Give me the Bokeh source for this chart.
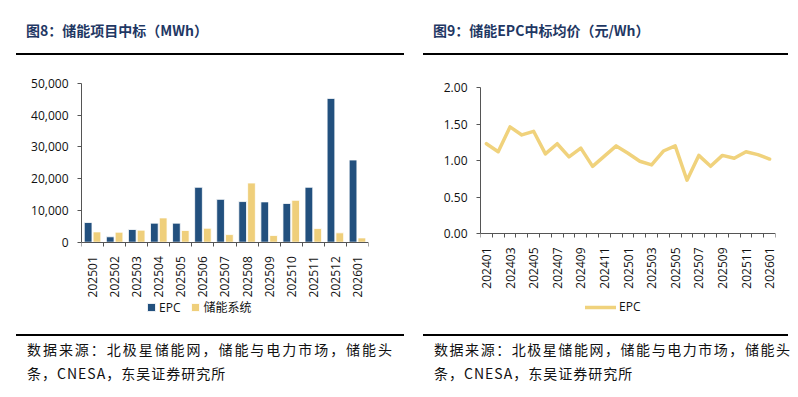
import math
from bokeh.plotting import figure
from bokeh.models import (ColumnDataSource, Legend, LegendItem, FixedTicker, Div, Spacer,
                          NumeralTickFormatter, Range1d)
from bokeh.layouts import row, column
from bokeh.transform import dodge
from bokeh.embed import file_html
from bokeh.resources import INLINE

# ---------------- data ----------------
bar_months = ["202501", "202502", "202503", "202504", "202505", "202506", "202507",
              "202508", "202509", "202510", "202511", "202512", "202601"]
epc_mwh = [6200, 1700, 4000, 6000, 6000, 17300, 13500, 12800, 12700, 12200, 17300, 45300, 25900]
system_mwh = [3250, 3150, 3800, 7650, 3700, 4400, 2400, 18650, 2100, 13200, 4300, 2950, 1350]
bar_series = ["EPC", "储能系统"]
bar_yticks = [0, 10000, 20000, 30000, 40000, 50000]

price_months = ["202401", "202402", "202403", "202404", "202405", "202406", "202407", "202408",
                "202409", "202410", "202411", "202412", "202501", "202502", "202503", "202504",
                "202505", "202506", "202507", "202508", "202509", "202510", "202511", "202512",
                "202601"]
epc_price = [1.23, 1.12, 1.46, 1.35, 1.40, 1.09, 1.23, 1.05, 1.17, 0.92, 1.06, 1.20, 1.10,
             0.99, 0.94, 1.13, 1.20, 0.73, 1.07, 0.92, 1.07, 1.03, 1.12, 1.08, 1.02]
price_yticks = [0.0, 0.5, 1.0, 1.5, 2.0]

title_left = "图8：储能项目中标（MWh）"
title_right = "图9：储能EPC中标均价（元/Wh）"
source_line1 = "数据来源：北极星储能网，储能与电力市场，储能头"
source_line2 = "条，CNESA，东吴证券研究所"

BLUE = "#22507E"
YELLOW = "#EFCF7B"
LINE_Y = "#F0D27C"
AXIS = "#555555"
FONT = "Open Sans, Noto Sans CJK SC"
CJK = "'Noto Sans CJK SC'"

FIG_H = 279


def style_axes(p):
    p.outline_line_color = None
    p.xgrid.grid_line_color = None
    p.ygrid.grid_line_color = None
    p.background_fill_color = "white"
    p.border_fill_color = "white"
    for ax in (p.xaxis[0], p.yaxis[0]):
        ax.axis_line_color = AXIS
        ax.major_tick_line_color = AXIS
        ax.minor_tick_line_color = AXIS
        ax.major_label_text_font = FONT
        ax.major_label_text_font_size = "12px"
        ax.major_label_text_color = "#111111"
        ax.major_tick_in = 0
        ax.minor_tick_in = 0


def low_extent(top_val, top_px, zero_px, bottom_px):
    # value at the lower frame edge, so that the axis (at 0) sits at zero_px
    return -top_val * (bottom_px - zero_px) / (zero_px - top_px)


# ---------------- left chart ----------------
n1 = len(bar_months)
src1 = ColumnDataSource(dict(x=list(range(n1)), epc=epc_mwh, sys=system_mwh))
ymax1 = bar_yticks[-1]
p1 = figure(width=388, height=FIG_H, output_backend="svg", toolbar_location=None,
            x_range=Range1d(-0.5, n1 - 0.5),
            y_range=Range1d(low_extent(ymax1, 28, 186.7, 269), ymax1),
            min_border_left=65, min_border_right=36, min_border_top=28,
            min_border_bottom=FIG_H - 269, margin=0)
r_epc = p1.vbar(x=dodge("x", -0.2), top="epc", width=0.35, source=src1,
                fill_color=BLUE, line_color="white", line_width=0.8)
r_sys = p1.vbar(x=dodge("x", 0.2), top="sys", width=0.35, source=src1,
                fill_color=YELLOW, line_color="white", line_width=0.8)
style_axes(p1)
p1.xaxis.fixed_location = 0
p1.xaxis.ticker = FixedTicker(ticks=list(range(n1)),
                              minor_ticks=[i - 0.5 for i in range(n1 + 1)])
p1.xaxis.major_label_overrides = {i: m for i, m in enumerate(bar_months)}
p1.xaxis.major_label_orientation = math.pi / 2
p1.xaxis.major_tick_out = 0
p1.xaxis.minor_tick_out = 4
p1.xaxis.major_label_standoff = 10
p1.yaxis.ticker = FixedTicker(ticks=bar_yticks, minor_ticks=[])
p1.yaxis.bounds = (0, ymax1)
p1.yaxis.formatter = NumeralTickFormatter(format="0,0")
p1.yaxis.major_tick_out = 4
p1.yaxis.minor_tick_out = 0
p1.yaxis.major_label_standoff = 9

leg1 = Legend(items=[LegendItem(label=bar_series[0], renderers=[r_epc]),
                     LegendItem(label=bar_series[1], renderers=[r_sys])],
              orientation="horizontal", location=(65, 8), border_line_color=None,
              background_fill_alpha=0, glyph_width=10, glyph_height=10, label_standoff=3,
              spacing=10, padding=0, margin=0, label_height=12,
              label_text_font=FONT, label_text_font_size="12px", label_text_color="#111111")
p1.add_layout(leg1, "center")

# ---------------- right chart ----------------
n2 = len(price_months)
src2 = ColumnDataSource(dict(x=list(range(n2)), price=epc_price))
ymax2 = price_yticks[-1]
p2 = figure(width=365, height=FIG_H, output_backend="svg", toolbar_location=None,
            x_range=Range1d(-0.5, n2 - 0.5),
            y_range=Range1d(low_extent(ymax2, 32, 178, 269), ymax2),
            min_border_left=57, min_border_right=13, min_border_top=32,
            min_border_bottom=FIG_H - 269, margin=0)
r_line = p2.line(x="x", y="price", source=src2, line_color=LINE_Y, line_width=3.5,
                 line_join="round", line_cap="round")
style_axes(p2)
p2.xaxis.fixed_location = 0
p2.xaxis.ticker = FixedTicker(ticks=list(range(0, n2, 2)),
                              minor_ticks=[i - 0.5 for i in range(n2 + 1)])
p2.xaxis.major_label_overrides = {i: price_months[i] for i in range(0, n2, 2)}
p2.xaxis.major_label_orientation = math.pi / 2
p2.xaxis.major_tick_out = 0
p2.xaxis.minor_tick_out = 4
p2.xaxis.major_label_standoff = 10
p2.yaxis.ticker = FixedTicker(ticks=price_yticks, minor_ticks=[])
p2.yaxis.bounds = (0, ymax2)
p2.yaxis.formatter = NumeralTickFormatter(format="0.00")
p2.yaxis.major_tick_out = 4
p2.yaxis.minor_tick_out = 0
p2.yaxis.major_label_standoff = 9

leg2 = Legend(items=[LegendItem(label="EPC", renderers=[r_line])],
              orientation="horizontal", location=(105, 9), border_line_color=None,
              background_fill_alpha=0, glyph_width=31, glyph_height=8, label_standoff=3,
              padding=0, margin=0, label_height=12,
              label_text_font=FONT, label_text_font_size="12px", label_text_color="#111111")
p2.add_layout(leg2, "center")


# ---------------- texts / rules ----------------
def title_div(text, w):
    return Div(text=f'<div style="font-family:{CJK};font-weight:bold;font-size:14px;'
                    f'line-height:20px;color:#1F3864;padding:20px 0 0 10px;white-space:nowrap;">'
                    f'{text}</div>', width=w, height=53, margin=0)


def rule(w):
    return Div(text="", width=w, height=2, margin=0, styles={"background-color": "black"})


def footer_div(w, tw):
    html = (f'<div style="font-family:{CJK};font-size:14px;line-height:24px;color:#111;'
            f'padding:1px 0 0 11px;">'
            f'<div style="width:{tw}px;text-align:justify;text-align-last:justify;white-space:nowrap;">{source_line1}</div>'
            f'<div style="letter-spacing:1px;white-space:nowrap;">{source_line2}</div></div>')
    return Div(text=html, width=w, height=44, margin=0, styles={"overflow": "visible"})


left = column(title_div(title_left, 388), rule(388), p1, rule(388), footer_div(388, 365),
              spacing=0, margin=0)
right = column(title_div(title_right, 365), rule(365), p2, rule(365), footer_div(365, 356),
               spacing=0, margin=0)
layout = row(Spacer(width=16, height=10, margin=0), left, Spacer(width=19, height=10, margin=0),
             right, spacing=0, margin=0)

open("out.html", "w").write(file_html(layout, INLINE, title="chart"))
